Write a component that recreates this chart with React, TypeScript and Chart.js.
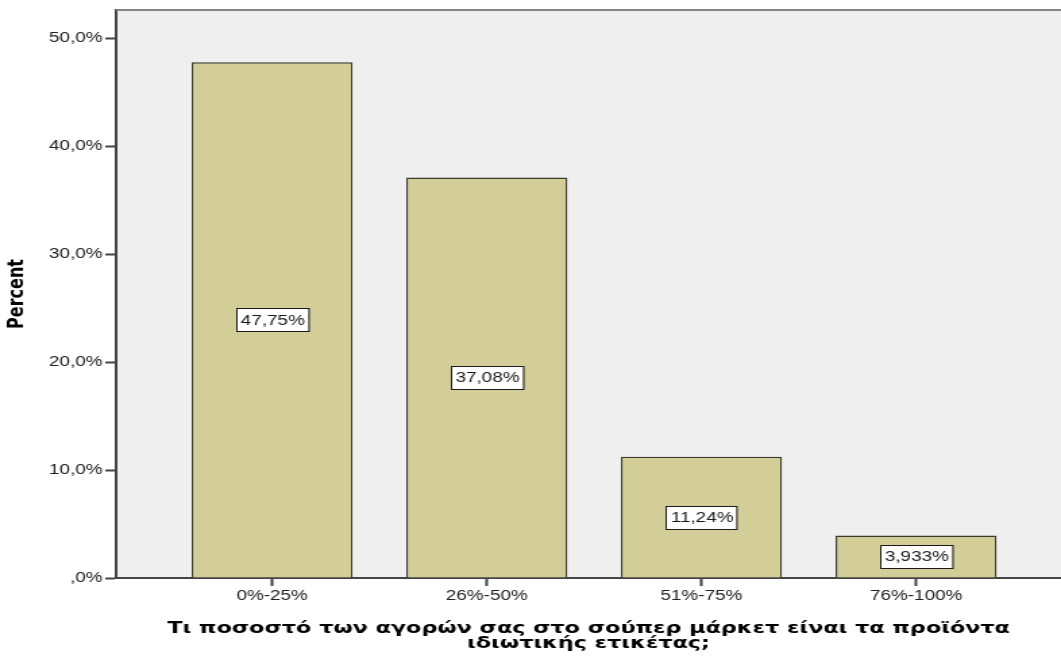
import { useEffect, useRef } from "react";
import { Chart, registerables } from "chart.js";

Chart.register(...registerables);

// Frequencies of the answer categories (percent of respondents)
const categories = ["0%-25%", "26%-50%", "51%-75%", "76%-100%"];
const percents = [47.75, 37.08, 11.24, 3.933];
const yTickValues = [0, 10, 20, 30, 40, 50];
const xTitleLines = [
  "Τι ποσοστό των αγορών σας στο σούπερ μάρκετ είναι τα προϊόντα",
  "ιδιωτικής ετικέτας;",
];
const yTitleText = "Percent";

const PAGE_W = 1061;
const PAGE_H = 659;
// The chart is drawn on a narrower canvas and widened with CSS,
// which gives the wide, SPSS-export look of the lettering.
const STRETCH = 1.35;
const CANVAS_W = Math.round(PAGE_W / STRETCH);

const FONT = "'Liberation Sans', Arial, sans-serif";
const TITLE_FONT = "'DejaVu Sans', Verdana, sans-serif";
const BAR_FILL = "#d3ce98";
const BAR_EDGE = "#3b3a2c";
const PLOT_BG = "#efefef";
const AXIS = "#444444";

const fmtTick = (v: number) =>
  v === 0 ? ",0%" : v.toFixed(1).replace(".", ",") + "%";
const fmtValue = (v: number) => v.toPrecision(4).replace(".", ",") + "%";

const plotBackground = {
  id: "plotBackground",
  beforeDraw(chart: any) {
    const { ctx, chartArea, width, height } = chart;
    ctx.save();
    ctx.fillStyle = "#ffffff";
    ctx.fillRect(0, 0, width, height);
    ctx.fillStyle = PLOT_BG;
    ctx.fillRect(
      chartArea.left,
      chartArea.top,
      chartArea.right - chartArea.left,
      chartArea.bottom - chartArea.top
    );
    ctx.restore();
  },
  afterDraw(chart: any) {
    const { ctx, chartArea } = chart;
    ctx.save();
    ctx.strokeStyle = "#858585";
    ctx.lineWidth = 2;
    ctx.beginPath();
    ctx.moveTo(chartArea.left, chartArea.top);
    ctx.lineTo(chartArea.right, chartArea.top);
    ctx.stroke();
    ctx.restore();
  },
};

const valueBoxes = {
  id: "valueBoxes",
  afterDatasetsDraw(chart: any) {
    const { ctx } = chart;
    const meta = chart.getDatasetMeta(0);
    const values = chart.data.datasets[0].data as { x: number; y: number }[];
    ctx.save();
    ctx.font = `14px ${FONT}`;
    ctx.textAlign = "center";
    ctx.textBaseline = "middle";
    meta.data.forEach((bar: any, i: number) => {
      const text = fmtValue(values[i].y);
      const cy = (bar.y + bar.base) / 2;
      const w = ctx.measureText(text).width + 6;
      const h = 23;
      const x0 = Math.round(bar.x - w / 2);
      const y0 = Math.round(cy - h / 2);
      ctx.fillStyle = "#ffffff";
      ctx.fillRect(x0, y0, w, h);
      ctx.strokeStyle = "#1a1a1a";
      ctx.lineWidth = 1;
      ctx.strokeRect(x0 + 0.5, y0 + 0.5, w, h);
      ctx.fillStyle = "#1a1a1a";
      ctx.fillText(text, bar.x + 0.5, cy + 1);
    });
    ctx.restore();
  },
};

const tickGrid = {
  display: true,
  offset: false,
  drawOnChartArea: false,
  drawTicks: true,
  tickLength: 8,
  tickColor: AXIS,
  tickWidth: 2,
  color: AXIS,
};

export default function App() {
  const ref = useRef<HTMLCanvasElement | null>(null);

  useEffect(() => {
    if (!ref.current) return;
    const chart = new Chart(ref.current, {
      type: "bar",
      data: {
        datasets: [
          {
            data: percents.map((v, i) => ({ x: i + 1, y: v })),
            backgroundColor: BAR_FILL,
            borderColor: BAR_EDGE,
            borderWidth: 1.4,
            barPercentage: 0.75,
            categoryPercentage: 1,
          },
        ],
      },
      options: {
        responsive: false,
        animation: false,
        devicePixelRatio: 1,
        layout: { padding: { top: 10, left: 0, right: 0, bottom: 0 } },
        plugins: {
          legend: { display: false },
          tooltip: { enabled: false },
        },
        scales: {
          x: {
            type: "linear",
            min: 0.273,
            max: 4.675,
            offset: false,
            afterBuildTicks: (scale: any) => {
              scale.ticks = categories.map((_, i) => ({ value: i + 1 }));
            },
            afterFit: (scale: any) => {
              scale.height = 81;
              scale.paddingLeft = 0;
              scale.paddingRight = 0;
            },
            ticks: {
              autoSkip: false,
              maxRotation: 0,
              minRotation: 0,
              padding: 2,
              color: "#222222",
              font: { family: FONT, size: 14 },
              callback: (v: any) => categories[Number(v) - 1] ?? "",
            },
            grid: tickGrid,
            border: { display: true, color: AXIS, width: 2 },
            title: {
              display: true,
              text: xTitleLines,
              color: "#000000",
              font: { family: TITLE_FONT, size: 16.5, weight: "bold", lineHeight: "15px" },
              padding: { top: 0, bottom: 8 },
            },
          },
          y: {
            type: "linear",
            min: 0,
            max: 52.6,
            afterBuildTicks: (scale: any) => {
              scale.ticks = yTickValues.map((v) => ({ value: v }));
            },
            afterFit: (scale: any) => {
              scale.width = 86;
              scale.paddingTop = 0;
              scale.paddingBottom = 0;
            },
            ticks: {
              padding: 2,
              color: "#222222",
              font: { family: FONT, size: 14 },
              callback: (v: any) => fmtTick(Number(v)),
            },
            grid: tickGrid,
            border: { display: true, color: AXIS, width: 2 },
            title: {
              display: true,
              text: yTitleText,
              color: "#000000",
              font: { family: TITLE_FONT, size: 16, weight: "bold" },
              padding: { top: 3.5, bottom: 0 },
            },
          },
        },
      },
      plugins: [plotBackground, valueBoxes],
    } as any);
    return () => chart.destroy();
  }, []);

  return (
    <div
      style={{
        position: "absolute",
        left: 0,
        top: 0,
        width: PAGE_W,
        height: PAGE_H,
        background: "#ffffff",
      }}
    >
      <canvas
        ref={ref}
        width={CANVAS_W}
        height={PAGE_H}
        style={{ width: PAGE_W + "px", height: PAGE_H + "px", display: "block" }}
      />
    </div>
  );
}
